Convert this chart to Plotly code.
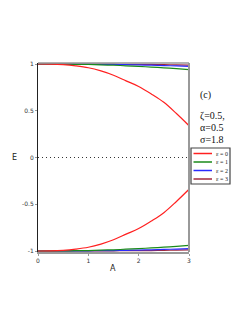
import plotly.graph_objects as go

A = [0, 0.25, 0.5, 0.75, 1.0, 1.25, 1.5, 1.75, 2.0, 2.25, 2.5, 2.75, 3.0]
E_red_top = [1.0, 0.999, 0.993, 0.98, 0.96, 0.926, 0.88, 0.82, 0.76, 0.68, 0.59, 0.47, 0.34]
E_green_top = [1.0, 1.0, 0.999, 0.997, 0.995, 0.991, 0.987, 0.981, 0.975, 0.967, 0.959, 0.95, 0.94]
E_blue_top = [1.0, 1.0, 1.0, 0.999, 0.998, 0.997, 0.995, 0.993, 0.99, 0.987, 0.983, 0.979, 0.975]
E_maroon_top = [1.0, 1.0, 1.0, 1.0, 0.999, 0.999, 0.998, 0.997, 0.996, 0.995, 0.993, 0.991, 0.989]
E_red_bot = [-v for v in E_red_top]
E_green_bot = [-v for v in E_green_top]
E_blue_bot = [-v for v in E_blue_top]
E_maroon_bot = [-v for v in E_maroon_top]

legend_labels = ["ε = 0", "ε = 1", "ε = 2", "ε = 3"]
colors = ["#ff2020", "#1a8a1a", "#2a2aff", "#a0283c"]
params = ["(c)", "ζ=0.5,", "α=0.5", "σ=1.8"]

fig = go.Figure()
fig.add_trace(go.Scatter(x=[0, 3], y=[0, 0], mode="lines",
                         line=dict(color="#333", width=1.2, dash="1px,3px"), showlegend=False))
series = [(E_maroon_top, E_maroon_bot, colors[3]),
          (E_blue_top, E_blue_bot, colors[2]),
          (E_green_top, E_green_bot, colors[1]),
          (E_red_top, E_red_bot, colors[0])]
for top, bot, c in series:
    fig.add_trace(go.Scatter(x=A, y=top, mode="lines", line=dict(color=c, width=1.2, shape="spline"), showlegend=False))
    fig.add_trace(go.Scatter(x=A, y=bot, mode="lines", line=dict(color=c, width=1.2, shape="spline"), showlegend=False))

OFF = 8  # default page body margin
FW, FH = 249 - OFF, 323 - OFF
L, R, T, B = 38 - OFF, 189 - OFF, 63 - OFF, 252 - OFF
W = R - L
H = B - T
def px(x):
    return (x - OFF - L) / W
def py(y):
    return (B - (y - OFF)) / H

shapes = []
shapes.append(dict(type="line", xref="paper", yref="paper", x0=0, x1=1, y0=1, y1=1, line=dict(color="#999", width=1.5)))
shapes.append(dict(type="line", xref="paper", yref="paper", x0=1, x1=1, y0=0, y1=1, line=dict(color="#999", width=2)))
shapes.append(dict(type="rect", xref="paper", yref="paper", x0=px(191), x1=px(230), y0=py(184), y1=py(148),
                   line=dict(color="#444", width=1.2), fillcolor="white"))
annotations = []
ys = [153.5, 162, 170.5, 179]
for lab, c, yy in zip(legend_labels, colors, ys):
    shapes.append(dict(type="line", xref="paper", yref="paper", x0=px(193.5), x1=px(212), y0=py(yy), y1=py(yy),
                       line=dict(color=c, width=1.5)))
    annotations.append(dict(text=lab, xref="paper", yref="paper", x=px(214), y=py(yy), xanchor="left", yanchor="middle",
                            showarrow=False, font=dict(family="Liberation Serif", size=6, color="#222")))
pys = [95, 116, 127.5, 139]
pxs = [198, 198, 198, 198]
for t, xx, yy in zip(params, pxs, pys):
    annotations.append(dict(text=t, xref="paper", yref="paper", x=px(xx), y=py(yy), xanchor="left", yanchor="middle",
                            showarrow=False, font=dict(family="Liberation Serif", size=10, color="#111")))
annotations.append(dict(text="E", xref="paper", yref="paper", x=px(14), y=py(157), xanchor="center", yanchor="middle",
                        showarrow=False, font=dict(family="DejaVu Sans", size=8, color="#222")))
annotations.append(dict(text="A", xref="paper", yref="paper", x=px(113), y=py(268), xanchor="center", yanchor="middle",
                        showarrow=False, font=dict(family="DejaVu Sans", size=8, color="#222")))

fig.update_layout(
    width=FW, height=FH,
    margin=dict(l=L, r=FW - R, t=T, b=FH - B),
    paper_bgcolor="white", plot_bgcolor="white",
    showlegend=False,
    shapes=shapes, annotations=annotations,
    xaxis=dict(range=[0, 3], tickvals=[0, 1, 2, 3], ticktext=["0", "1", "2", "3"], showgrid=False, zeroline=False,
               showline=True, linecolor="#999", linewidth=2, ticks="outside", ticklen=2, tickcolor="#999",
               tickfont=dict(family="DejaVu Sans", size=6, color="#333")),
    yaxis=dict(range=[-1.0107, 1.0107], tickvals=[-1, -0.5, 0, 0.5, 1], ticktext=["-1", "-0.5", "0", "0.5", "1"],
               showgrid=False, zeroline=False, showline=True, linecolor="#222", linewidth=1,
               ticks="outside", ticklen=2, tickcolor="#999",
               tickfont=dict(family="DejaVu Sans", size=6, color="#333")),
)
fig.write_html("out.html")
